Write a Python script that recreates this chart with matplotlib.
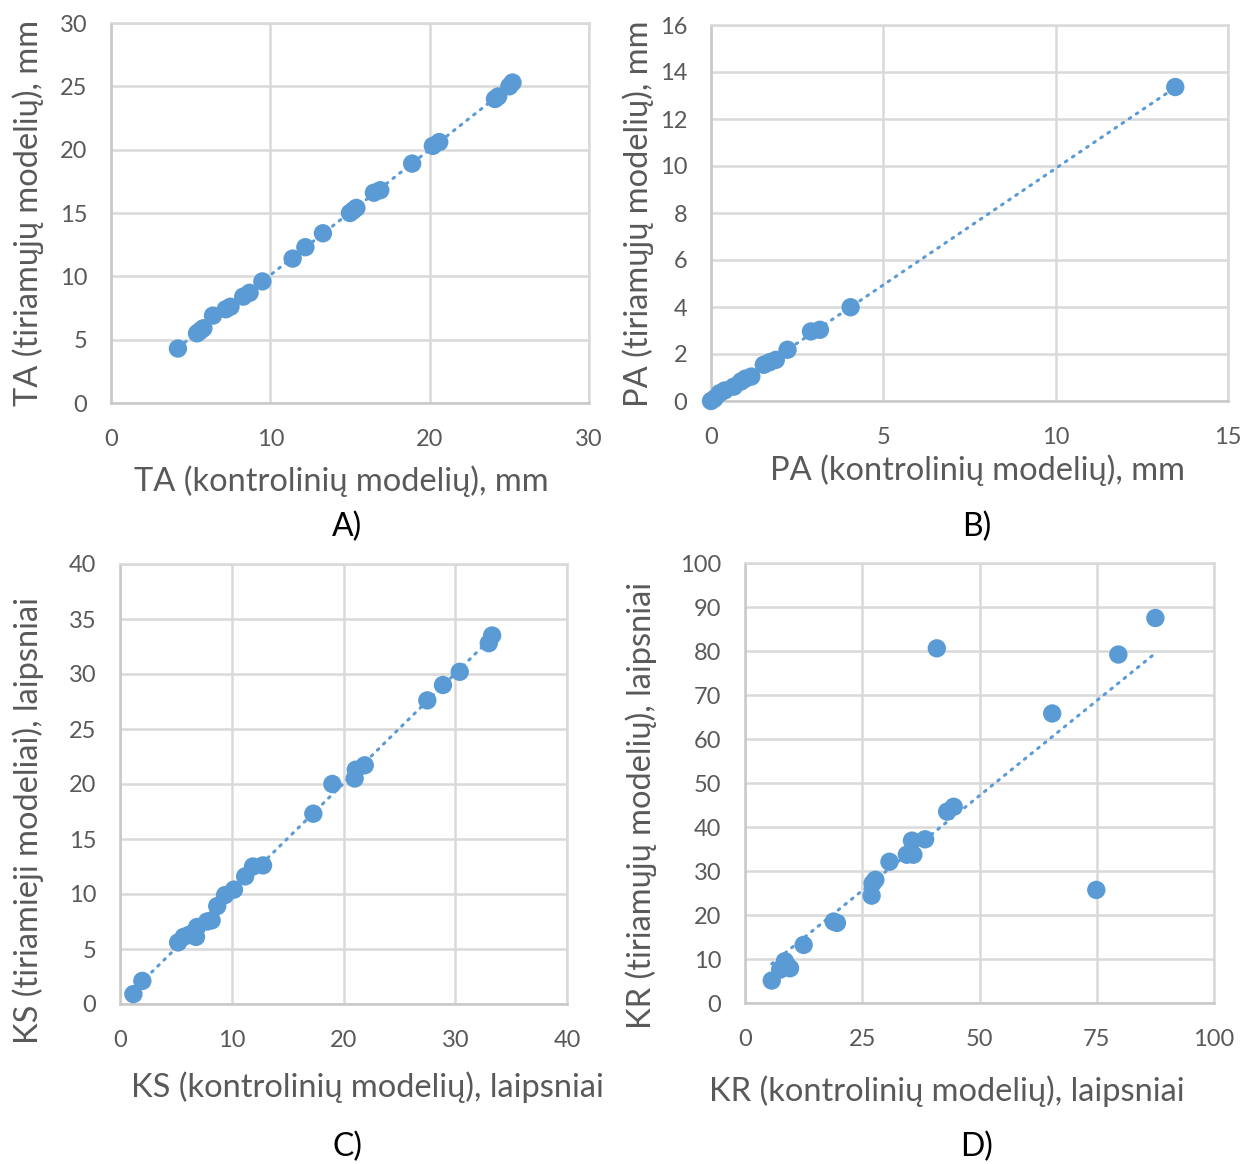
import numpy as np
from matplotlib import pyplot as plt

# %% data
ta_x = [4.2, 5.4, 5.6, 5.8, 6.4, 7.2, 7.5, 8.3, 8.7, 9.5, 11.4, 12.2, 13.3,
        15.0, 15.2, 15.4, 16.5, 16.9, 18.9, 20.2, 20.6, 24.1, 24.3, 25.0, 25.2]
ta_y = [4.3, 5.5, 5.7, 5.9, 6.9, 7.4, 7.6, 8.4, 8.7, 9.6, 11.4, 12.3, 13.4,
        15.0, 15.2, 15.4, 16.6, 16.8, 18.9, 20.3, 20.6, 24.0, 24.2, 25.0, 25.3]

pa_x = [0.0, 0.1, 0.25, 0.4, 0.66, 0.87, 1.0, 1.17, 1.53, 1.7, 1.88, 2.22,
        2.9, 3.16, 4.05, 13.47]
pa_y = [0.0, 0.1, 0.33, 0.45, 0.61, 0.83, 0.95, 1.04, 1.54, 1.65, 1.75, 2.18,
        2.96, 3.03, 3.99, 13.36]

ks_x = [1.2, 2.0, 5.2, 5.7, 6.2, 6.8, 6.9, 7.8, 8.2, 8.7, 9.4, 10.2, 11.2,
        11.9, 12.8, 17.3, 19.0, 21.0, 21.1, 21.9, 27.5, 28.9, 30.4, 33.0, 33.3]
ks_y = [0.9, 2.1, 5.6, 6.1, 6.3, 6.1, 7.0, 7.5, 7.6, 8.9, 9.9, 10.4, 11.6,
        12.5, 12.6, 17.3, 20.0, 20.5, 21.3, 21.7, 27.6, 29.0, 30.2, 32.8, 33.5]

kr_x = [5.7, 7.5, 8.5, 9.0, 9.6, 12.5, 18.9, 19.6, 27.0, 27.2, 27.8, 30.8,
        34.5, 35.9, 35.6, 38.4, 43.1, 44.5, 40.9, 65.5, 74.9, 79.6, 87.5]
kr_y = [5.1, 7.6, 9.5, 8.5, 7.9, 13.2, 18.5, 18.2, 24.4, 27.2, 28.0, 32.1,
        33.7, 33.7, 36.9, 37.2, 43.5, 44.6, 80.6, 65.8, 25.7, 79.2, 87.5]

panels = [
    # x, y, box (l, t, r, b px), xmax, xstep, ymax, ystep, labels, caption,
    # label centres in px (xlabel, ylabel, caption)
    (ta_x, ta_y, (111, 23, 589, 403), 30, 10, 30, 5,
     'TA (kontrolinių modelių), mm', 'TA (tiriamųjų modelių), mm', 'A)',
     (341, 481), (28, 213), (347, 527)),
    (pa_x, pa_y, (711, 25, 1228, 401), 15, 5, 16, 2,
     'PA (kontrolinių modelių), mm', 'PA (tiriamųjų modelių), mm', 'B)',
     (977, 470), (638, 214), (977, 527)),
    (ks_x, ks_y, (120, 564, 567, 1004), 40, 10, 40, 5,
     'KS (kontrolinių modelių), laipsniai', 'KS (tiriamieji modeliai), laipsniai', 'C)',
     (367, 1087), (28, 820), (347, 1147)),
    (kr_x, kr_y, (745, 563, 1214, 1003), 100, 25, 100, 10,
     'KR (kontrolinių modelių), laipsniai', 'KR (tiriamųjų modelių), laipsniai', 'D)',
     (947, 1091), (641, 805), (977, 1147)),
]

# %% plot
plt.rcParams.update({
    'font.family': ['Lato', 'DejaVu Sans'],
})
W, H = 1245, 1164
fig = plt.figure(figsize=(W / 100, H / 100), dpi=100)
blue = '#5B9BD5'
grid_c = '#D9D9D9'
text_c = '#595959'

for (x, y, box, xmax, xstep, ymax, ystep, xlabel, ylabel, cap,
     xl_pos, yl_pos, cap_pos) in panels:
    l, t, r, b = box
    ax = fig.add_axes([l / W, 1 - b / H, (r - l) / W, (b - t) / H])
    x = np.array(x)
    y = np.array(y)
    k, c = np.polyfit(x, y, 1)
    xs = np.array([x.min(), x.max()])
    ax.plot(xs, k * xs + c, color=blue, lw=2.2, ls=(0, (0.6, 2.2)),
            dash_capstyle='round', zorder=2)
    ax.scatter(x, y, s=175, color=blue, edgecolors='none', zorder=3,
               clip_on=False)
    ax.set_xlim(0, xmax)
    ax.set_ylim(0, ymax)
    ax.set_xticks(np.arange(0, xmax + 0.01, xstep))
    ax.set_yticks(np.arange(0, ymax + 0.01, ystep))
    ax.tick_params(length=0, labelsize=17, labelcolor=text_c)
    ax.tick_params(axis='x', pad=19)
    ax.tick_params(axis='y', pad=17)
    ax.set_axisbelow(True)
    ax.grid(True, color=grid_c, lw=1.8)
    for sp in ax.spines.values():
        sp.set_color(grid_c)
        sp.set_linewidth(1.8)
    ax.spines['left'].set_color('#C8C8C8')
    ax.spines['bottom'].set_color('#C8C8C8')

    ax.set_xlabel(xlabel, fontsize=23.5, color=text_c, va='center')
    ax.xaxis.set_label_coords((xl_pos[0] - l) / (r - l), (b - xl_pos[1]) / (b - t))
    ax.set_ylabel(ylabel, fontsize=23.5, color=text_c, va='center')
    ax.yaxis.set_label_coords((yl_pos[0] - l) / (r - l), (b - yl_pos[1]) / (b - t))

    fig.text(cap_pos[0] / W, 1 - cap_pos[1] / H, cap, fontsize=23,
             color='black', ha='center', va='center')

fig.savefig('out.png', dpi=100)
print('saved plot as out.png')
